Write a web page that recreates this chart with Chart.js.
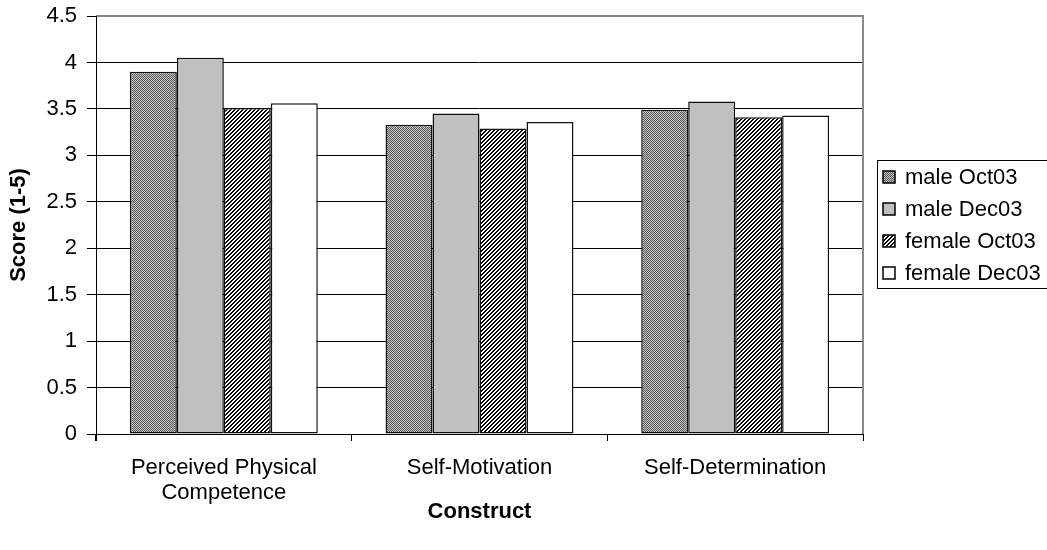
<!DOCTYPE html>
<html>
<head>
<meta charset="utf-8">
<script src="https://cdn.jsdelivr.net/npm/chart.js@4/dist/chart.umd.min.js"></script>
<style>
  html, body { margin: 0; padding: 0; background: #fff; }
  #wrap { width: 1047px; height: 550px; position: relative; }
</style>
</head>
<body>
<div id="wrap"><canvas id="scoreChart"></canvas></div>
<script>
// data
const categories = [['Perceived Physical', 'Competence'], 'Self-Motivation', 'Self-Determination'];
const seriesNames = ['male Oct03', 'male Dec03', 'female Oct03', 'female Dec03'];
const maleOct03 = [3.90, 3.33, 3.49];
const maleDec03 = [4.05, 3.45, 3.58];
const femaleOct03 = [3.51, 3.29, 3.41];
const femaleDec03 = [3.56, 3.36, 3.43];
const yTicks = [0, 0.5, 1, 1.5, 2, 2.5, 3, 3.5, 4, 4.5];

const FONT = "'Liberation Sans', Arial, sans-serif";
const FSIZE = 22;

// fill patterns like the old excel hatches
function makePattern(kind) {
    const c = document.createElement('canvas');
    c.width = 4; c.height = 4;
    const g = c.getContext('2d');
    if (kind === 'dots') {
        g.fillStyle = '#c8c8c8';
        g.fillRect(0, 0, 4, 4);
        g.fillStyle = '#555';
        for (let y = 0; y < 4; y++) {
            for (let x = 0; x < 4; x++) {
                if ((x + y) % 2 === 0) g.fillRect(x, y, 1, 1);
            }
        }
    } else {
        g.fillStyle = '#fff';
        g.fillRect(0, 0, 4, 4);
        g.fillStyle = '#000';
        for (let i = 0; i < 4; i++) {
            g.fillRect(3 - i, i, 1, 1);
            g.fillRect((4 - i) % 4, i, 1, 1);
        }
    }
    return document.createElement('canvas').getContext('2d').createPattern(c, 'repeat');
}

const fills = [makePattern('dots'), '#c0c0c0', makePattern('hatch'), '#ffffff'];
const seriesValues = [maleOct03, maleDec03, femaleOct03, femaleDec03];

// legend drawn by hand so it sits in a framed box at the right edge
const boxLegend = {
    id: 'boxLegend',
    afterDraw(chart) {
        const ctx = chart.ctx;
        ctx.save();
        ctx.fillStyle = '#fff';
        ctx.fillRect(877, 160, 175, 129);
        ctx.strokeStyle = '#000';
        ctx.lineWidth = 1;
        ctx.strokeRect(877.5, 160.5, 180, 128);
        ctx.font = FSIZE + 'px ' + FONT;
        ctx.textBaseline = 'middle';
        const rows = [177, 209, 241, 273];
        chart.data.datasets.forEach((ds, i) => {
            const y = rows[i];
            ctx.fillStyle = ds.backgroundColor;
            ctx.fillRect(883, y - 6, 12, 12);
            ctx.strokeStyle = '#000';
            ctx.lineWidth = 1.5;
            ctx.strokeRect(883, y - 6, 12, 12);
            ctx.fillStyle = '#000';
            ctx.fillText(ds.label, 905, y + 1);
        });
        ctx.restore();
    }
};

// gray frame on top and right of the plot
const plotFrame = {
    id: 'plotFrame',
    afterDatasetsDraw(chart) {
        const a = chart.chartArea;
        const ctx = chart.ctx;
        ctx.save();
        ctx.strokeStyle = '#888';
        ctx.lineWidth = 2;
        ctx.beginPath();
        ctx.moveTo(a.left, a.top);
        ctx.lineTo(a.right, a.top);
        ctx.lineTo(a.right, a.bottom);
        ctx.stroke();
        ctx.strokeStyle = '#000';
        ctx.lineWidth = 1;
        ctx.beginPath();
        ctx.moveTo(a.left + 0.5, a.top);
        ctx.lineTo(a.left + 0.5, a.bottom + 7);
        ctx.moveTo(a.left, a.bottom + 0.5);
        ctx.lineTo(a.right, a.bottom + 0.5);
        ctx.stroke();
        ctx.restore();
    }
};

function createChart() {
    const ctx = document.getElementById('scoreChart').getContext('2d');
    new Chart(ctx, {
        type: 'bar',
        data: {
            labels: categories,
            datasets: seriesNames.map((name, i) => ({
                label: name,
                data: seriesValues[i],
                backgroundColor: fills[i],
                borderColor: '#111',
                borderWidth: 1.5,
                borderSkipped: false,
                categoryPercentage: 0.735,
                barPercentage: 1
            }))
        },
        options: {
            responsive: true,
            maintainAspectRatio: false,
            animation: false,
            layout: { padding: { left: 6, right: 184, top: 16, bottom: 0 } },
            plugins: {
                legend: { display: false },
                tooltip: { enabled: false }
            },
            scales: {
                y: {
                    min: 0,
                    max: 4.5,
                    afterBuildTicks(scale) {
                        scale.ticks = yTicks.map(v => ({ value: v }));
                    },
                    afterFit(scale) {
                        scale.width = 90;
                        scale.paddingTop = 0;
                        scale.paddingBottom = 0;
                    },
                    grid: {
                        color: '#000',
                        lineWidth: 1,
                        tickLength: 9,
                        drawTicks: true
                    },
                    border: { display: false },
                    ticks: {
                        color: '#000',
                        padding: 10,
                        callback: v => String(v),
                        font: { family: FONT, size: FSIZE }
                    },
                    title: {
                        display: true,
                        text: 'Score (1-5)',
                        color: '#000',
                        padding: { top: 0, bottom: 0 },
                        font: { family: FONT, size: FSIZE, weight: 'bold' }
                    }
                },
                x: {
                    afterFit(scale) {
                        scale.height = 116;
                        scale.paddingLeft = 0;
                        scale.paddingRight = 0;
                    },
                    grid: {
                        offset: true,
                        drawOnChartArea: false,
                        color: '#000',
                        tickLength: 7
                    },
                    border: { display: false },
                    ticks: {
                        color: '#000',
                        padding: 14,
                        maxRotation: 0,
                        font: { family: FONT, size: FSIZE, lineHeight: 1.15 }
                    },
                    title: {
                        display: true,
                        text: 'Construct',
                        color: '#000',
                        padding: { top: 4, bottom: 25 },
                        font: { family: FONT, size: FSIZE, weight: 'bold' }
                    }
                }
            }
        },
        plugins: [plotFrame, boxLegend]
    });
}

document.addEventListener('DOMContentLoaded', () => {
    createChart();
});
</script>
</body>
</html>
